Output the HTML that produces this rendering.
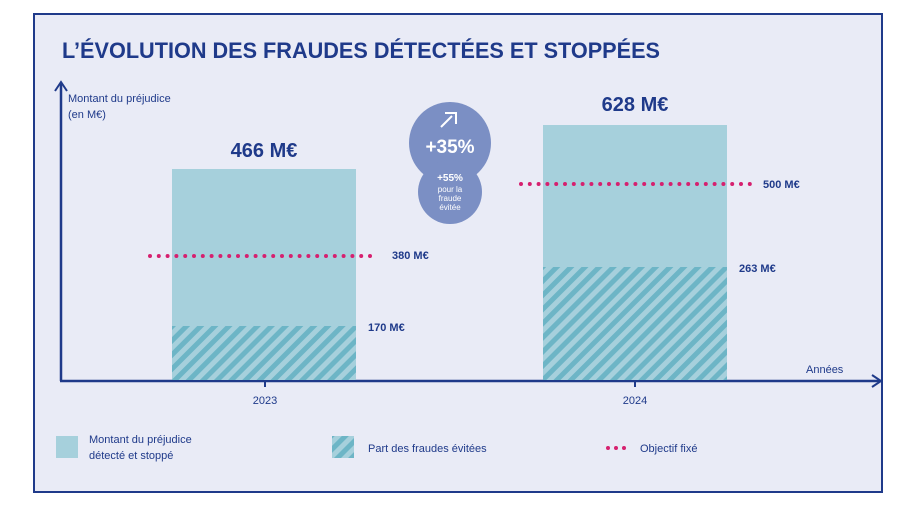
<!DOCTYPE html>
<html><head><meta charset="utf-8"><style>
body{margin:0;background:#fff;width:907px;height:520px;overflow:hidden;font-family:"Liberation Sans",sans-serif}
</style></head><body>
<svg width="907" height="520" xmlns="http://www.w3.org/2000/svg" font-family="Liberation Sans, sans-serif">
<defs>
<pattern id="h" width="10" height="10" patternUnits="userSpaceOnUse" patternTransform="rotate(45)">
<rect width="10" height="10" fill="#a6d0dc"/><rect width="5" height="10" fill="#6db5c6"/>
</pattern>
</defs>
<rect x="34" y="14" width="848" height="478" fill="#e9ebf6" stroke="#1f3a8a" stroke-width="2"/>
<text x="62" y="58" font-size="22" font-weight="bold" fill="#1f3a8a" textLength="598" lengthAdjust="spacingAndGlyphs">L’ÉVOLUTION DES FRAUDES DÉTECTÉES ET STOPPÉES</text>
<line x1="61" y1="381" x2="61" y2="84" stroke="#1f3a8a" stroke-width="2.5"/>
<polyline points="55,91 61,82 67,91" fill="none" stroke="#1f3a8a" stroke-width="2"/>
<line x1="60" y1="381" x2="880" y2="381" stroke="#1f3a8a" stroke-width="2.5"/>
<polyline points="872,375 881,381 872,387" fill="none" stroke="#1f3a8a" stroke-width="2"/>
<line x1="265" y1="381" x2="265" y2="387" stroke="#1f3a8a" stroke-width="2"/>
<line x1="635" y1="381" x2="635" y2="387" stroke="#1f3a8a" stroke-width="2"/>
<text x="68" y="102" font-size="11" fill="#1f3a8a">Montant du préjudice</text>
<text x="68" y="118" font-size="11" fill="#1f3a8a">(en M€)</text>
<text x="806" y="373" font-size="11" fill="#1f3a8a">Années</text>
<text x="265" y="404" font-size="11" fill="#1f3a8a" text-anchor="middle">2023</text>
<text x="635" y="404" font-size="11" fill="#1f3a8a" text-anchor="middle">2024</text>
<rect x="172" y="169" width="184" height="211" fill="#a6d0dc"/>
<rect x="172" y="326" width="184" height="54" fill="url(#h)"/>
<rect x="543" y="125" width="184" height="255" fill="#a6d0dc"/>
<rect x="543" y="267" width="184" height="113" fill="url(#h)"/>
<text x="264" y="157" font-size="20" font-weight="bold" fill="#1f3a8a" text-anchor="middle">466 M€</text>
<text x="635" y="111" font-size="20" font-weight="bold" fill="#1f3a8a" text-anchor="middle">628 M€</text>
<line x1="150" y1="256" x2="372" y2="256" stroke="#d6206f" stroke-width="4" stroke-linecap="round" stroke-dasharray="0 8.8"/>
<line x1="521" y1="184" x2="750" y2="184" stroke="#d6206f" stroke-width="4" stroke-linecap="round" stroke-dasharray="0 8.8"/>
<text x="392" y="259" font-size="11" font-weight="bold" fill="#1f3a8a">380 M€</text>
<text x="368" y="331" font-size="11" font-weight="bold" fill="#1f3a8a">170 M€</text>
<text x="763" y="188" font-size="11" font-weight="bold" fill="#1f3a8a">500 M€</text>
<text x="739" y="272" font-size="11" font-weight="bold" fill="#1f3a8a">263 M€</text>
<circle cx="450" cy="143" r="41" fill="#7b8fc4"/>
<circle cx="450" cy="192" r="32" fill="#7b8fc4"/>
<path d="M441 127 L452 116 M445 113 L456 113 L456 124" fill="none" stroke="#fff" stroke-width="2"/>
<text x="450" y="153" font-size="19" font-weight="bold" fill="#fff" text-anchor="middle">+35%</text>
<text x="450" y="181" font-size="10" font-weight="bold" fill="#fff" text-anchor="middle">+55%</text>
<text x="450" y="192" font-size="8" fill="#fff" text-anchor="middle">pour la</text>
<text x="450" y="201" font-size="8" fill="#fff" text-anchor="middle">fraude</text>
<text x="450" y="210" font-size="8" fill="#fff" text-anchor="middle">évitée</text>
<rect x="56" y="436" width="22" height="22" fill="#a6d0dc"/>
<text x="89" y="443" font-size="11" fill="#1f3a8a">Montant du préjudice</text>
<text x="89" y="459" font-size="11" fill="#1f3a8a">détecté et stoppé</text>
<rect x="332" y="436" width="22" height="22" fill="url(#h)"/>
<text x="368" y="452" font-size="11" fill="#1f3a8a">Part des fraudes évitées</text>
<line x1="608" y1="448" x2="630" y2="448" stroke="#d6206f" stroke-width="4" stroke-linecap="round" stroke-dasharray="0 8"/>
<text x="640" y="452" font-size="11" fill="#1f3a8a">Objectif fixé</text>
</svg>
</body></html>
